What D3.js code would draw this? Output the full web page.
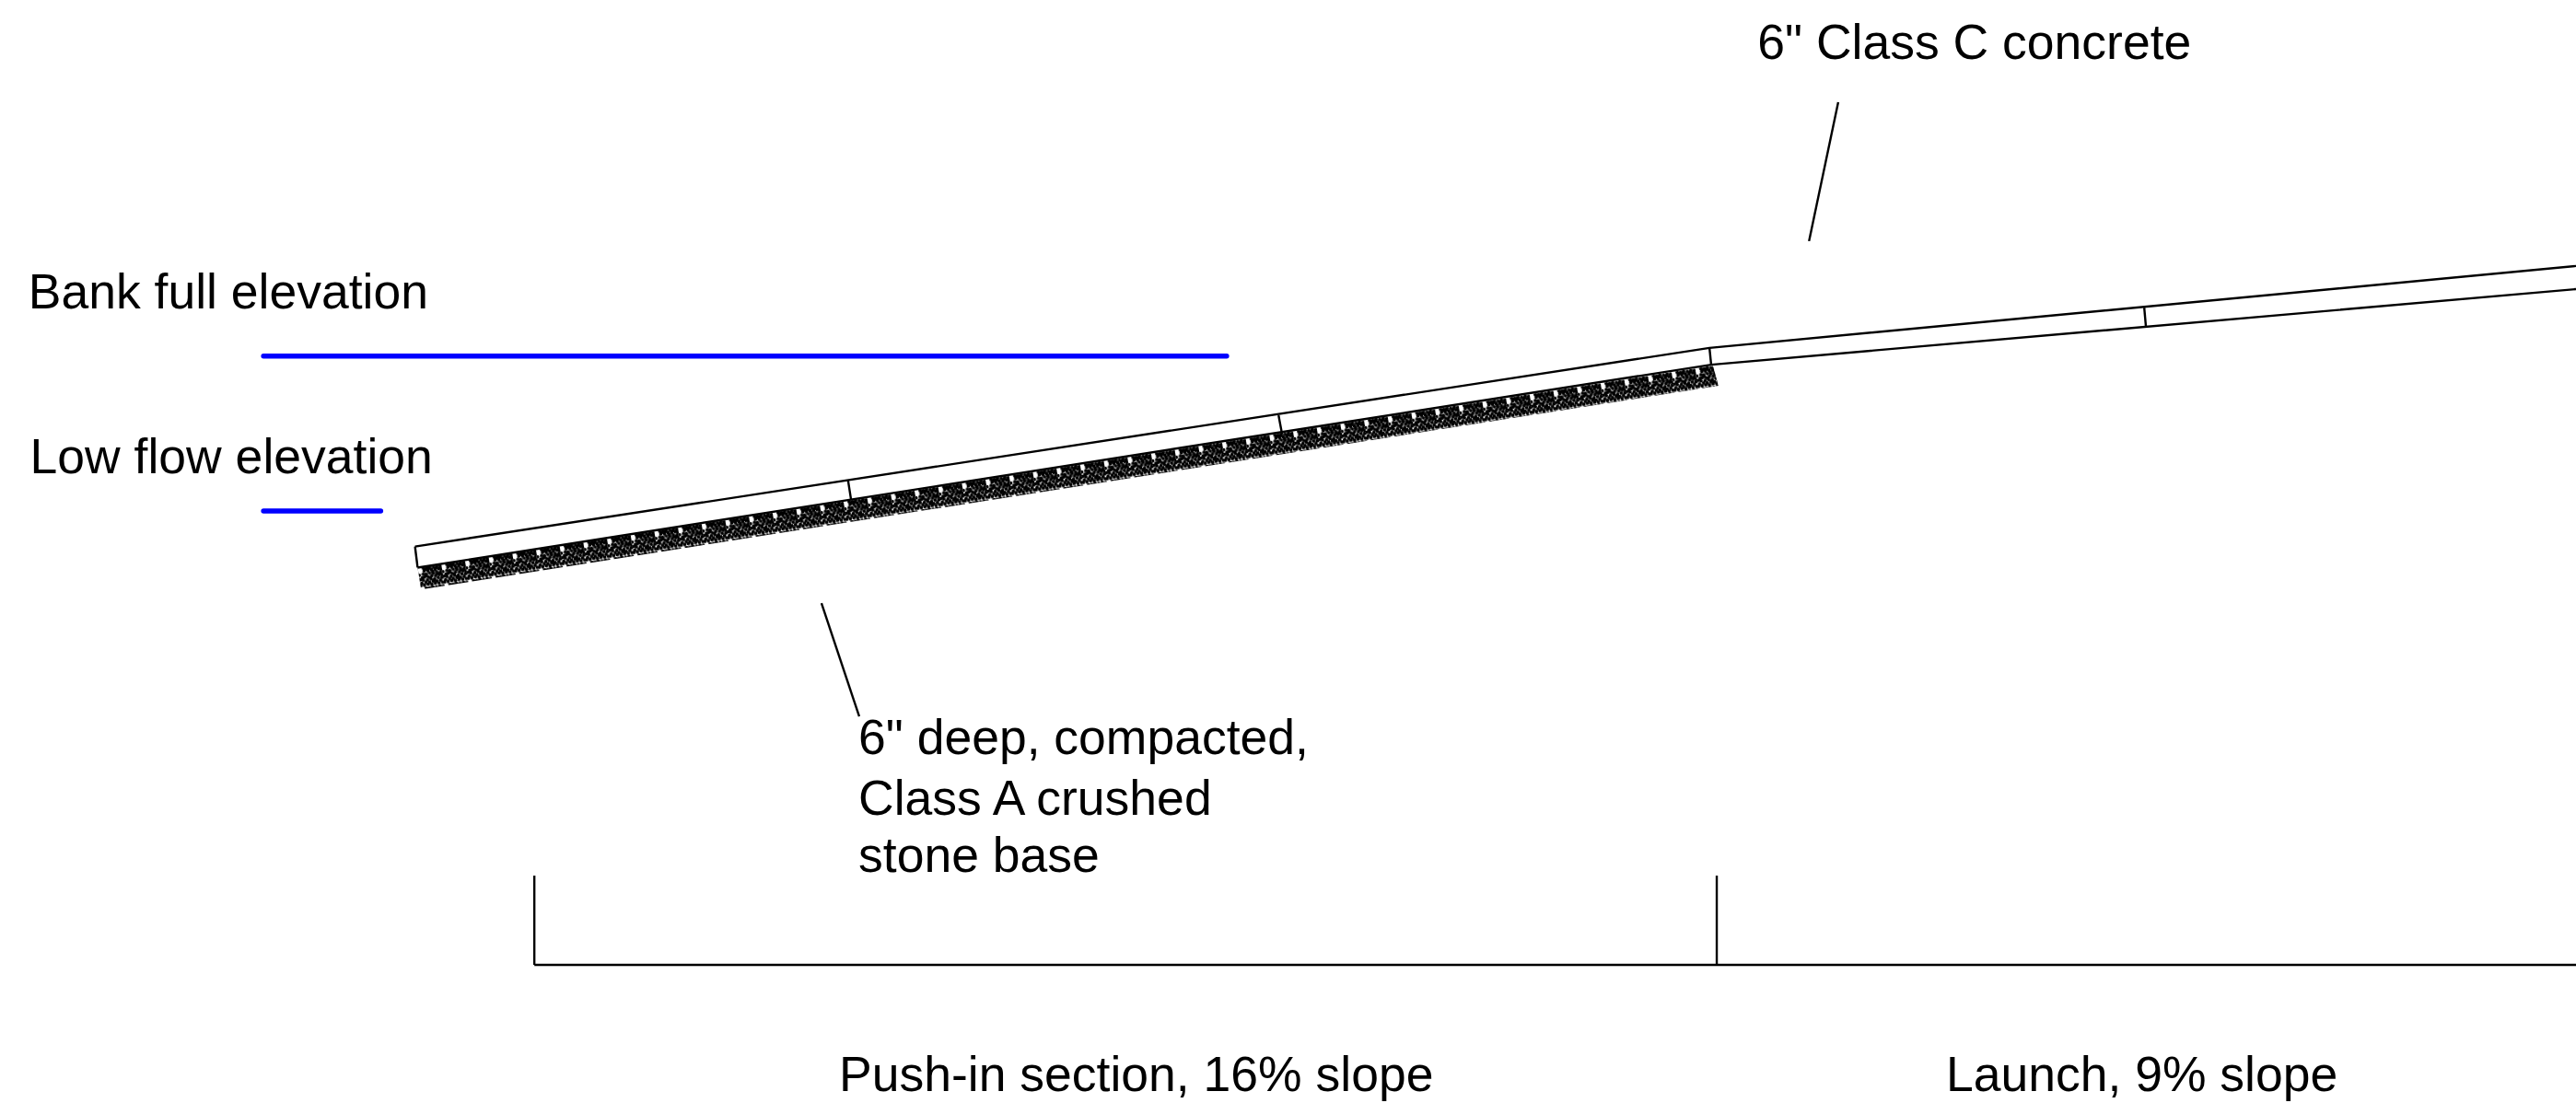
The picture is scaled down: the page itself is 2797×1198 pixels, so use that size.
<!DOCTYPE html>
<html>
<head>
<meta charset="utf-8">
<script src="https://d3js.org/d3.v7.min.js"></script>
<style>
html, body { margin: 0; padding: 0; background: #fff; }
text { font-family: "Liberation Sans", Arial, sans-serif; font-size: 53.5px; fill: #000; }
</style>
</head>
<body>
<div id="graph"></div>
<script>
// section geometry, station and elevation in feet
var slabTopStation = [9.67, 39.83, 60.02];
var slabTopElev = [12.97, 17.60, 19.51];
var slabBottomStation = [9.73, 39.87, 60.02];
var slabBottomElev = [12.48, 17.21, 18.97];

var jointStations = [[9.67, 9.73], [19.76, 19.83], [29.79, 29.87], [39.83, 39.87], [49.96, 50.0]];
var jointElevs = [[12.97, 12.48], [14.51, 14.06], [16.03, 15.60], [17.60, 17.21], [18.54, 18.09]];

var baseStation = [9.73, 39.91, 40.04, 9.81];
var baseElev = [12.48, 17.19, 16.72, 11.97];

var waterNames = ["Bank full", "Low flow"];
var waterStart = [6.14, 6.14];
var waterEnd = [28.58, 8.87];
var waterElev = [17.41, 13.80];

var leaderStations = [[42.83, 42.15], [19.14, 20.02]];
var leaderElevs = [[23.33, 20.09], [11.65, 9.01]];

var dimStations = [12.45, 40.0, 60.02];
var dimTickTop = 5.3;
var dimLine = 3.22;

var labels = ["Bank full elevation", "Low flow elevation", "6\" Class C concrete",
    "6\" deep, compacted,", "Class A crushed", "stone base",
    "Push-in section, 16% slope", "Launch, 9% slope"];
var labelStations = [0.66, 0.70, 40.95, 20.0, 20.0, 20.0, 19.55, 45.34];
var labelElevs = [18.53, 14.67, 24.33, 8.13, 6.72, 5.38, 0.28, 0.28];

// one tile of the stone hatch, dot offsets along and across the slab
var stoneX = [6, 9.5, 13, 17, 21, 24.5, 6.5, 10.5, 14.5, 18.5, 22.5, 25, 0.5, 5, 8, 12, 16, 20, 24,
    6, 10, 14, 18, 22, 25.2, 1, 4, 8.5, 12.5, 16.5, 20.5, 24.3, 2, 6.5, 10.5, 14.5, 18.5, 22.5, 0.7, 4.5, 8.5, 12.5, 16.5, 20.5, 24.5,
    7.5, 11.5, 15.5, 19.5, 23, 3.5, 8, 12, 16, 20];
var stoneY = [1.5, 2, 1.4, 2, 1.5, 2.2, 4.6, 5.1, 4.4, 5, 4.7, 5.4, 8.6, 7.9, 8.5, 7.8, 8.4, 7.9, 8.5,
    11.2, 11.8, 11, 11.6, 11.1, 11.7, 13.6, 14.4, 14.9, 14.2, 14.8, 14.1, 14.7, 17.6, 17.1, 17.7, 17, 17.6, 17.2, 19.9, 20, 19.6, 20.2, 19.7, 20.1, 19.8,
    3.2, 3, 6.7, 3.3, 9.8, 11.6, 9.9, 12.8, 16, 9.6];

var width = window.innerWidth || 2797,
    height = window.innerHeight || 1198;

var x = d3.scaleLinear().domain([0, 60.02]).range([0, 2797]);
var y = d3.scaleLinear().domain([0, 25.71]).range([1198, 0]);

var svg = d3.select("#graph")
    .append("svg")
    .attr("width", 2797)
    .attr("height", 1198)
    .style("display", "block");

var line = d3.line()
    .x(function (d) { return x(d[0]); })
    .y(function (d) { return y(d[1]); });

function zipPts(a, b) {
    return a.map(function (d, i) { return [d, b[i]]; });
}

// stone base hatch, tile runs along the slab
var angle = Math.atan2(y(baseElev[1]) - y(baseElev[0]), x(baseStation[1]) - x(baseStation[0])) * 180 / Math.PI;
var pattern = svg.append("defs").append("pattern")
    .attr("id", "stone")
    .attr("patternUnits", "userSpaceOnUse")
    .attr("width", 26)
    .attr("height", 22)
    .attr("patternTransform", "translate(" + x(baseStation[0]) + "," + y(baseElev[0]) + ") rotate(" + angle + ")");

pattern.selectAll("circle")
    .data(stoneX)
    .enter()
    .append("circle")
    .attr("cx", function (d) { return d; })
    .attr("cy", function (d, i) { return stoneY[i]; })
    .attr("r", 1.9)
    .attr("fill", "#000");

svg.append("path")
    .attr("d", line(zipPts(baseStation, baseElev)) + "Z")
    .attr("fill", "url(#stone)");

// concrete slab
[zipPts(slabTopStation, slabTopElev), zipPts(slabBottomStation, slabBottomElev)].forEach(function (pts) {
    svg.append("path")
        .attr("d", line(pts))
        .attr("fill", "none")
        .attr("stroke", "#000")
        .attr("stroke-width", 2.4);
});

svg.selectAll(".joint")
    .data(jointStations)
    .enter()
    .append("path")
    .attr("class", "joint")
    .attr("d", function (d, i) { return line(zipPts(d, jointElevs[i])); })
    .attr("stroke", "#000")
    .attr("stroke-width", 2.4);

// water levels
svg.selectAll(".water")
    .data(waterNames)
    .enter()
    .append("line")
    .attr("class", "water")
    .attr("x1", function (d, i) { return x(waterStart[i]); })
    .attr("x2", function (d, i) { return x(waterEnd[i]); })
    .attr("y1", function (d, i) { return y(waterElev[i]); })
    .attr("y2", function (d, i) { return y(waterElev[i]); })
    .attr("stroke", "#0000ff")
    .attr("stroke-width", 5.5)
    .attr("stroke-linecap", "round");

// leaders
svg.selectAll(".leader")
    .data(leaderStations)
    .enter()
    .append("path")
    .attr("class", "leader")
    .attr("d", function (d, i) { return line(zipPts(d, leaderElevs[i])); })
    .attr("stroke", "#000")
    .attr("stroke-width", 2.4);

// dimension line along the bottom
svg.append("path")
    .attr("d", line([[dimStations[0], dimLine], [dimStations[2], dimLine]]))
    .attr("stroke", "#000")
    .attr("stroke-width", 2.4);

svg.selectAll(".dimtick")
    .data(dimStations.slice(0, 2))
    .enter()
    .append("path")
    .attr("class", "dimtick")
    .attr("d", function (d) { return line([[d, dimTickTop], [d, dimLine]]); })
    .attr("stroke", "#000")
    .attr("stroke-width", 2.4);

svg.selectAll(".label")
    .data(labels)
    .enter()
    .append("text")
    .attr("class", "label")
    .attr("x", function (d, i) { return x(labelStations[i]); })
    .attr("y", function (d, i) { return y(labelElevs[i]); })
    .text(function (d) { return d; });
</script>
</body>
</html>
